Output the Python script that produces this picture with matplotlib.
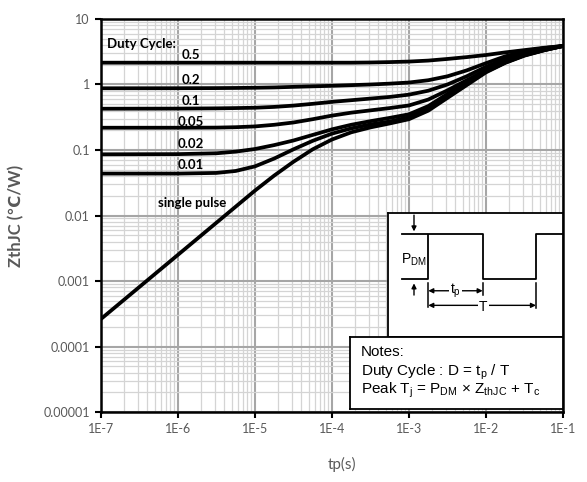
import numpy as np
import matplotlib.pyplot as plt
from matplotlib.ticker import FixedLocator, LogLocator, NullFormatter

# pulse width (s)
tp = [1e-7, 1e-6, 3.16e-6, 5.62e-6, 1e-5, 1.78e-5, 3.16e-5, 5.62e-5, 1e-4, 1.78e-4,
      3.16e-4, 5.62e-4, 1e-3, 1.78e-3, 3.16e-3, 5.62e-3, 1e-2, 1.78e-2, 3.16e-2,
      5.62e-2, 1e-1]

log_z_d05 = [0.333, 0.333, 0.333, 0.333, 0.333, 0.333, 0.333, 0.333, 0.333, 0.333,
             0.336, 0.342, 0.35, 0.365, 0.39, 0.418, 0.45, 0.49, 0.525, 0.56, 0.588]
log_z_d02 = [-0.058, -0.057, -0.055, -0.053, -0.05, -0.045, -0.036, -0.028, -0.02, -0.01,
             0.0, 0.013, 0.03, 0.065, 0.125, 0.215, 0.325, 0.43, 0.505, 0.555, 0.588]
log_z_d01 = [-0.37, -0.368, -0.364, -0.36, -0.355, -0.342, -0.322, -0.295, -0.265, -0.24,
             -0.215, -0.19, -0.155, -0.095, 0.0, 0.125, 0.27, 0.39, 0.48, 0.54, 0.588]
log_z_d005 = [-0.66, -0.66, -0.658, -0.652, -0.64, -0.615, -0.58, -0.53, -0.475, -0.43,
              -0.395, -0.36, -0.32, -0.23, -0.09, 0.065, 0.22, 0.355, 0.46, 0.53, 0.588]
log_z_d002 = [-1.066, -1.063, -1.05, -1.025, -0.985, -0.925, -0.855, -0.77, -0.685, -0.615,
              -0.56, -0.51, -0.455, -0.33, -0.145, 0.03, 0.2, 0.34, 0.45, 0.525, 0.588]
log_z_d001 = [-1.36, -1.36, -1.35, -1.32, -1.25, -1.13, -0.99, -0.86, -0.75, -0.67,
              -0.61, -0.565, -0.50, -0.37, -0.18, 0.01, 0.195, 0.335, 0.445, 0.522, 0.588]
log_z_single = [-3.58, -2.6, -2.11, -1.865, -1.62, -1.39, -1.18, -0.99, -0.84, -0.73,
                -0.655, -0.595, -0.53, -0.40, -0.205, -0.01, 0.185, 0.33, 0.44, 0.52, 0.588]

curves = [log_z_d05, log_z_d02, log_z_d01, log_z_d005, log_z_d002, log_z_d001, log_z_single]
duty_labels = ['0.5', '0.2', '0.1', '0.05', '0.02', '0.01']

x_ticks = [1e-7, 1e-6, 1e-5, 1e-4, 1e-3, 1e-2, 1e-1]
x_ticklabels = ['1E-7', '1E-6', '1E-5', '1E-4', '1E-3', '1E-2', '1E-1']
y_ticks = [1e-5, 1e-4, 1e-3, 1e-2, 1e-1, 1, 10]
y_ticklabels = ['0.00001', '0.0001', '0.001', '0.01', '0.1', '1', '10']

plt.rcParams['font.family'] = ['Lato', 'DejaVu Sans']
gray_txt = '#595959'

fig = plt.figure(figsize=(5.87, 4.82), dpi=100)
ax = fig.add_axes([0.172, 0.1452, 0.787, 0.8154])

for lz in curves:
    ax.plot(tp, 10 ** np.array(lz), color='black', lw=2.7,
            solid_capstyle='butt', solid_joinstyle='round')

ax.set_xscale('log')
ax.set_yscale('log')
ax.set_xlim(1e-7, 1e-1)
ax.set_ylim(1e-5, 10)

ax.xaxis.set_major_locator(FixedLocator(x_ticks))
ax.set_xticklabels(x_ticklabels)
ax.yaxis.set_major_locator(FixedLocator(y_ticks))
ax.set_yticklabels(y_ticklabels)
for a in (ax.xaxis, ax.yaxis):
    a.set_minor_locator(LogLocator(base=10, subs=np.arange(2, 10), numticks=100))
    a.set_minor_formatter(NullFormatter())

ax.set_axisbelow(True)
ax.grid(which='major', color='#a6a6a6', lw=1.5)
ax.grid(which='minor', color='#d4d4d4', lw=0.9)
ax.tick_params(which='major', length=4, width=1.5, color='black',
               labelsize=9, labelcolor=gray_txt, pad=4)
ax.tick_params(which='minor', length=0)
for s in ax.spines.values():
    s.set_linewidth(1.8)

ax.set_ylabel('ZthJC (\u2103/W)', fontsize=12, fontweight='bold', color=gray_txt)
ax.yaxis.set_label_coords(-0.165, 0.5)
ax.set_xlabel('tp(s)', fontsize=11, color=gray_txt)
ax.xaxis.set_label_coords(0.522, -0.115)

# curve labels
ax.text(0.013, 0.936, 'Duty Cycle:', transform=ax.transAxes, fontsize=9.5,
        fontweight='bold', va='center', ha='left')
label_y = [0.908, 0.845, 0.791, 0.738, 0.682, 0.628]
for lab, yy in zip(duty_labels, label_y):
    ax.text(0.195, yy, lab, transform=ax.transAxes, fontsize=9.5,
            fontweight='bold', va='center', ha='center')
ax.text(0.197, 0.532, 'single pulse', transform=ax.transAxes, fontsize=9.5,
        fontweight='bold', va='center', ha='center')

# pulse schematic inset
arial = ['Liberation Sans']
ins = fig.add_axes([0.661, 0.3008, 0.298, 0.257])
ins.set_xlim(0, 175)
ins.set_ylim(124, 0)
ins.set_xticks([])
ins.set_yticks([])
for s in ins.spines.values():
    s.set_linewidth(1.3)
lo, hi = 66.3, 21.3
x0, x1, x2, x3 = 13.7, 40.3, 94.7, 148
ins.plot([x0, x1, x1, x2, x2, x3, x3, 175], [lo, lo, hi, hi, lo, lo, hi, hi],
         color='black', lw=1.3)
ins.plot([x0, x1 - 1], [hi, hi], color='black', lw=1.3)
arrow = dict(arrowstyle='-|>', color='black', lw=1, mutation_scale=7, shrinkA=0, shrinkB=0)
ins.annotate('', xy=(26, hi - 3), xytext=(26, 2), arrowprops=arrow)
ins.annotate('', xy=(26, lo + 4), xytext=(26, 82), arrowprops=arrow)
ins.text(26, 47, r'P$_\mathregular{DM}$', fontsize=10, family=arial, ha='center', va='center')
for xx, y_end in [(x1, 93.7), (x2, 82), (x3, 95)]:
    ins.plot([xx, xx], [70.3, y_end], color='black', lw=1.1)
darrow = dict(arrowstyle='<|-|>', color='black', lw=1, mutation_scale=7, shrinkA=0, shrinkB=0)
ins.annotate('', xy=(x1, 77.7), xytext=(x2, 77.7), arrowprops=darrow)
ins.text((x1 + x2) / 2, 77.7, r't$_\mathregular{p}$', fontsize=10, family=arial,
         ha='center', va='center', bbox=dict(fc='white', ec='none', pad=1))
ins.annotate('', xy=(x1, 92.3), xytext=(x3, 92.3), arrowprops=darrow)
ins.text(95.3, 94, 'T', fontsize=10, family=arial, ha='center', va='center',
         bbox=dict(fc='white', ec='none', pad=1))

# notes box
notes = fig.add_axes([0.596, 0.1515, 0.363, 0.149])
notes.set_xlim(0, 213)
notes.set_ylim(72, 0)
notes.set_xticks([])
notes.set_yticks([])
for s in notes.spines.values():
    s.set_linewidth(1.3)
notes.text(11, 14.5, 'Notes:', fontsize=11, family=arial, va='center')
notes.text(11, 35.5, r'Duty Cycle : D = t$_\mathregular{p}$ / T', fontsize=11,
           family=arial, va='center')
notes.text(11, 53.5, r'Peak T$_\mathregular{j}$ = P$_\mathregular{DM}$ '
           '\u00d7' r' Z$_\mathregular{thJC}$ + T$_\mathregular{c}$', fontsize=11,
           family=arial, va='center')

fig.savefig('out.png', dpi=100)
